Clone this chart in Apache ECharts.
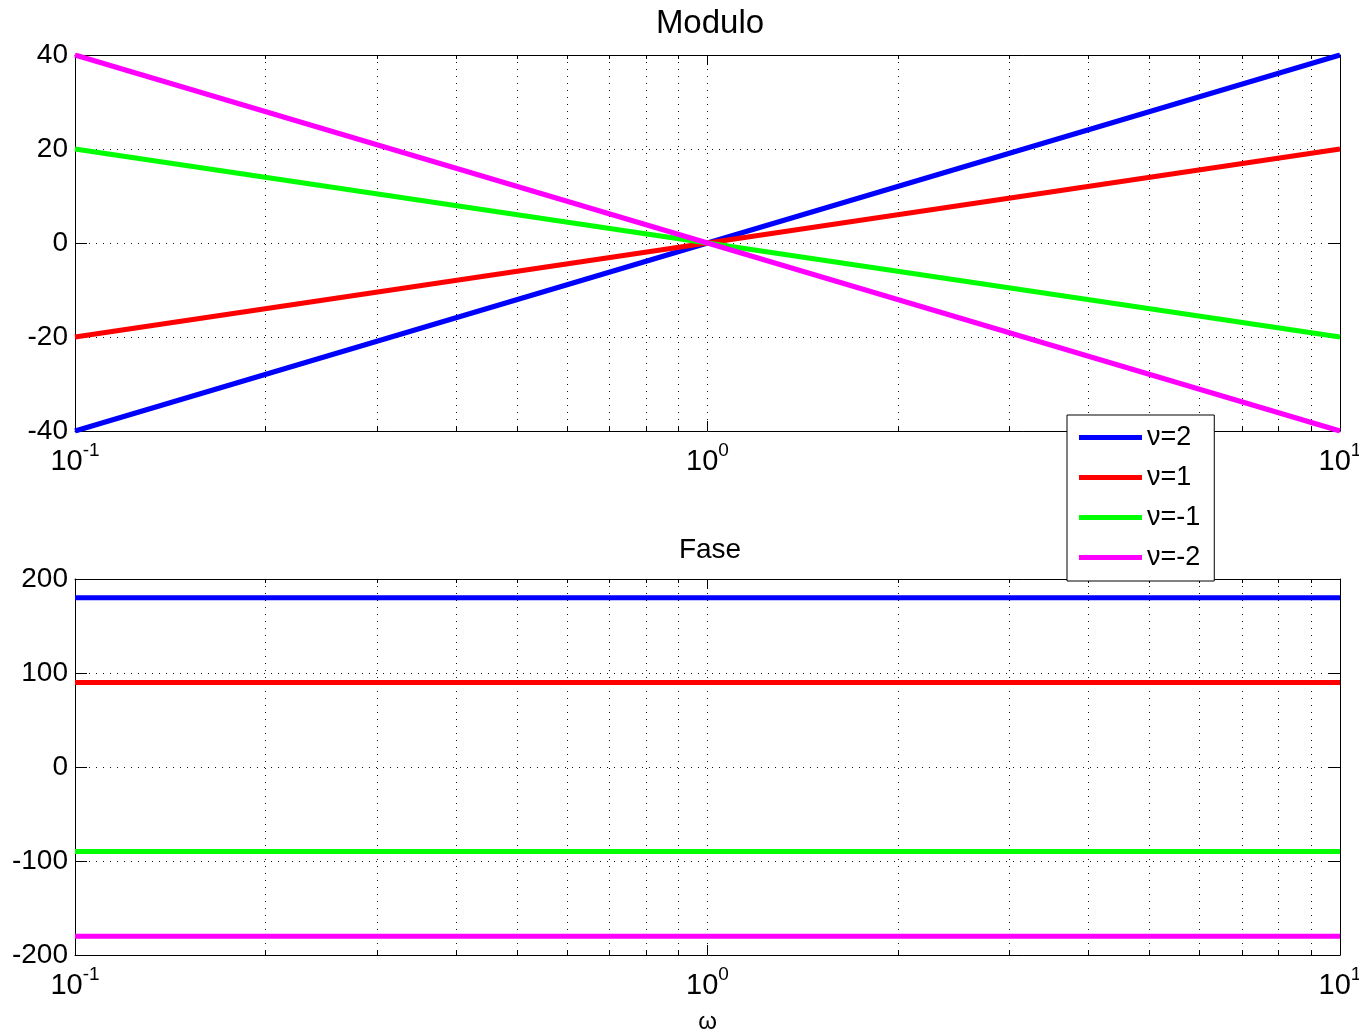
<!DOCTYPE html>
<html><head><meta charset="utf-8">
<script src="https://cdn.jsdelivr.net/npm/echarts@6/dist/echarts.min.js"></script>
<style>html,body{margin:0;padding:0;background:#fff}#c{width:1359px;height:1035px}</style>
</head><body><div id="c"></div>
<script>
// ---- data ----
const omega = [0.1, 1, 10];
const seriesNames = ['ν=2', 'ν=1', 'ν=-1', 'ν=-2'];
const colors = ['#0000ff', '#ff0000', '#00ff00', '#ff00ff'];
const moduloNu2 = [-40, 0, 40];
const moduloNu1 = [-20, 0, 20];
const moduloNuM1 = [20, 0, -20];
const moduloNuM2 = [40, 0, -40];
const faseNu2 = [180, 180, 180];
const faseNu1 = [90, 90, 90];
const faseNuM1 = [-90, -90, -90];
const faseNuM2 = [-180, -180, -180];
const xMajorTicks = [0.1, 1, 10];
const xTickExponents = ['-1', '0', '1'];
const xMinorTicks = [0.2,0.3,0.4,0.5,0.6,0.7,0.8,0.9,2,3,4,5,6,7,8,9];
const titles = ['Modulo', 'Fase'];
const xAxisName = 'ω';

const FONT = '"Liberation Sans", Arial, Helvetica, sans-serif';
const dotted = {color: '#111', width: 1, type: [1, 6]};

const grids = [
  {left: 75, right: 19, top: 55, height: 376, show: false, outerBoundsMode: 'none', containLabel: false},
  {left: 75, right: 19, top: 579, height: 376, show: false, outerBoundsMode: 'none', containLabel: false}
];
const yRanges = [{min: -40, max: 40, interval: 20}, {min: -200, max: 200, interval: 100}];

const xAxes = [], yAxes = [];
const logMinor = xMinorTicks.map(v => Math.log10(v));
const logMajor = xMajorTicks.map(v => Math.log10(v));
for (let g = 0; g < 2; g++) {
  xAxes.push({
    gridIndex: g, type: 'log', logBase: 10, min: 0.1, max: 10, position: 'bottom',
    axisLine: {show: true, onZero: false, lineStyle: {color: '#000', width: 1}},
    axisTick: {show: true, inside: true, length: 10, lineStyle: {color: '#000'}},
    splitLine: {show: true, lineStyle: dotted},
    minorTick: {show: false},
    name: g === 1 ? xAxisName : '', nameLocation: 'middle', nameGap: 55,
    nameTextStyle: {fontFamily: FONT, fontSize: 24, color: '#000'},
    axisLabel: {
      margin: 10, color: '#000', showMinLabel: true, showMaxLabel: true,
      formatter: v => {
        const i = xMajorTicks.findIndex(t => Math.abs(t - v) / t < 1e-6);
        return i < 0 ? '' : '{b|10}{s|' + xTickExponents[i] + '}';
      },
      rich: {
        b: {fontFamily: FONT, fontSize: 29, color: '#000', verticalAlign: 'bottom'},
        s: {fontFamily: FONT, fontSize: 19, color: '#000', verticalAlign: 'bottom', padding: [0, 0, 16, 0]}
      }
    }
  });
  // bottom minor ticks + minor dotted grid
  xAxes.push({
    gridIndex: g, type: 'value', min: -1, max: 1, position: 'bottom',
    axisLine: {show: false, onZero: false}, axisLabel: {show: false},
    axisTick: {show: true, inside: true, length: 4, customValues: logMinor, lineStyle: {color: '#000'}},
    splitLine: {show: true, lineStyle: dotted}
  });
  // top minor ticks + top border
  xAxes.push({
    gridIndex: g, type: 'value', min: -1, max: 1, position: 'top',
    axisLine: {show: true, onZero: false, lineStyle: {color: '#000', width: 1}}, axisLabel: {show: false},
    axisTick: {show: true, inside: true, length: 4, customValues: logMinor, lineStyle: {color: '#000'}},
    splitLine: {show: false}
  });
  // top major ticks
  xAxes.push({
    gridIndex: g, type: 'value', min: -1, max: 1, position: 'top',
    axisLine: {show: false, onZero: false}, axisLabel: {show: false},
    axisTick: {show: true, inside: true, length: 10, customValues: logMajor, lineStyle: {color: '#000'}},
    splitLine: {show: false}
  });
  const r = yRanges[g];
  yAxes.push({
    gridIndex: g, type: 'value', min: r.min, max: r.max, interval: r.interval, position: 'left',
    axisLine: {show: true, onZero: false, lineStyle: {color: '#000', width: 1}},
    axisTick: {show: true, inside: true, length: 12, lineStyle: {color: '#000'}},
    splitLine: {show: true, lineStyle: dotted},
    axisLabel: {fontFamily: FONT, fontSize: 28, color: '#000', margin: 7}
  });
  yAxes.push({
    gridIndex: g, type: 'value', min: r.min, max: r.max, interval: r.interval, position: 'right',
    axisLine: {show: true, onZero: false, lineStyle: {color: '#000', width: 1}},
    axisTick: {show: true, inside: true, length: 12, lineStyle: {color: '#000'}},
    splitLine: {show: false}, axisLabel: {show: false}
  });
}

const modulo = [moduloNu2, moduloNu1, moduloNuM1, moduloNuM2];
const fase = [faseNu2, faseNu1, faseNuM1, faseNuM2];
const series = [];
[modulo, fase].forEach((set, g) => {
  set.forEach((vals, k) => {
    series.push({
      name: seriesNames[k], type: 'line', xAxisIndex: g * 4, yAxisIndex: g * 2,
      data: omega.map((w, i) => [w, vals[i]]),
      showSymbol: false, symbol: 'none', silent: true,
      lineStyle: {color: colors[k], width: 5}, itemStyle: {color: colors[k]}, z: 3 + k
    });
  });
});

const chart = echarts.init(document.getElementById('c'), null, {renderer: 'canvas'});
chart.setOption({
  animation: false,
  backgroundColor: '#fff',
  title: [
    {text: titles[0], left: 705, top: 2, textAlign: 'center', textStyle: {fontFamily: FONT, fontSize: 33, fontWeight: 'normal', color: '#000'}},
    {text: titles[1], left: 705, top: 531, textAlign: 'center', textStyle: {fontFamily: FONT, fontSize: 28, fontWeight: 'normal', color: '#000'}}
  ],
  grid: grids,
  xAxis: xAxes,
  yAxis: yAxes,
  legend: {
    data: seriesNames, orient: 'vertical', left: 1067, top: 415,
    backgroundColor: '#fff', borderColor: '#000', borderWidth: 1,
    padding: [9, 14, 10, 12], itemGap: 13, itemWidth: 63, itemHeight: 5, icon: 'rect',
    textStyle: {fontFamily: FONT, fontSize: 27, color: '#000'},
    z: 10
  },
  series: series
});
</script></body></html>
